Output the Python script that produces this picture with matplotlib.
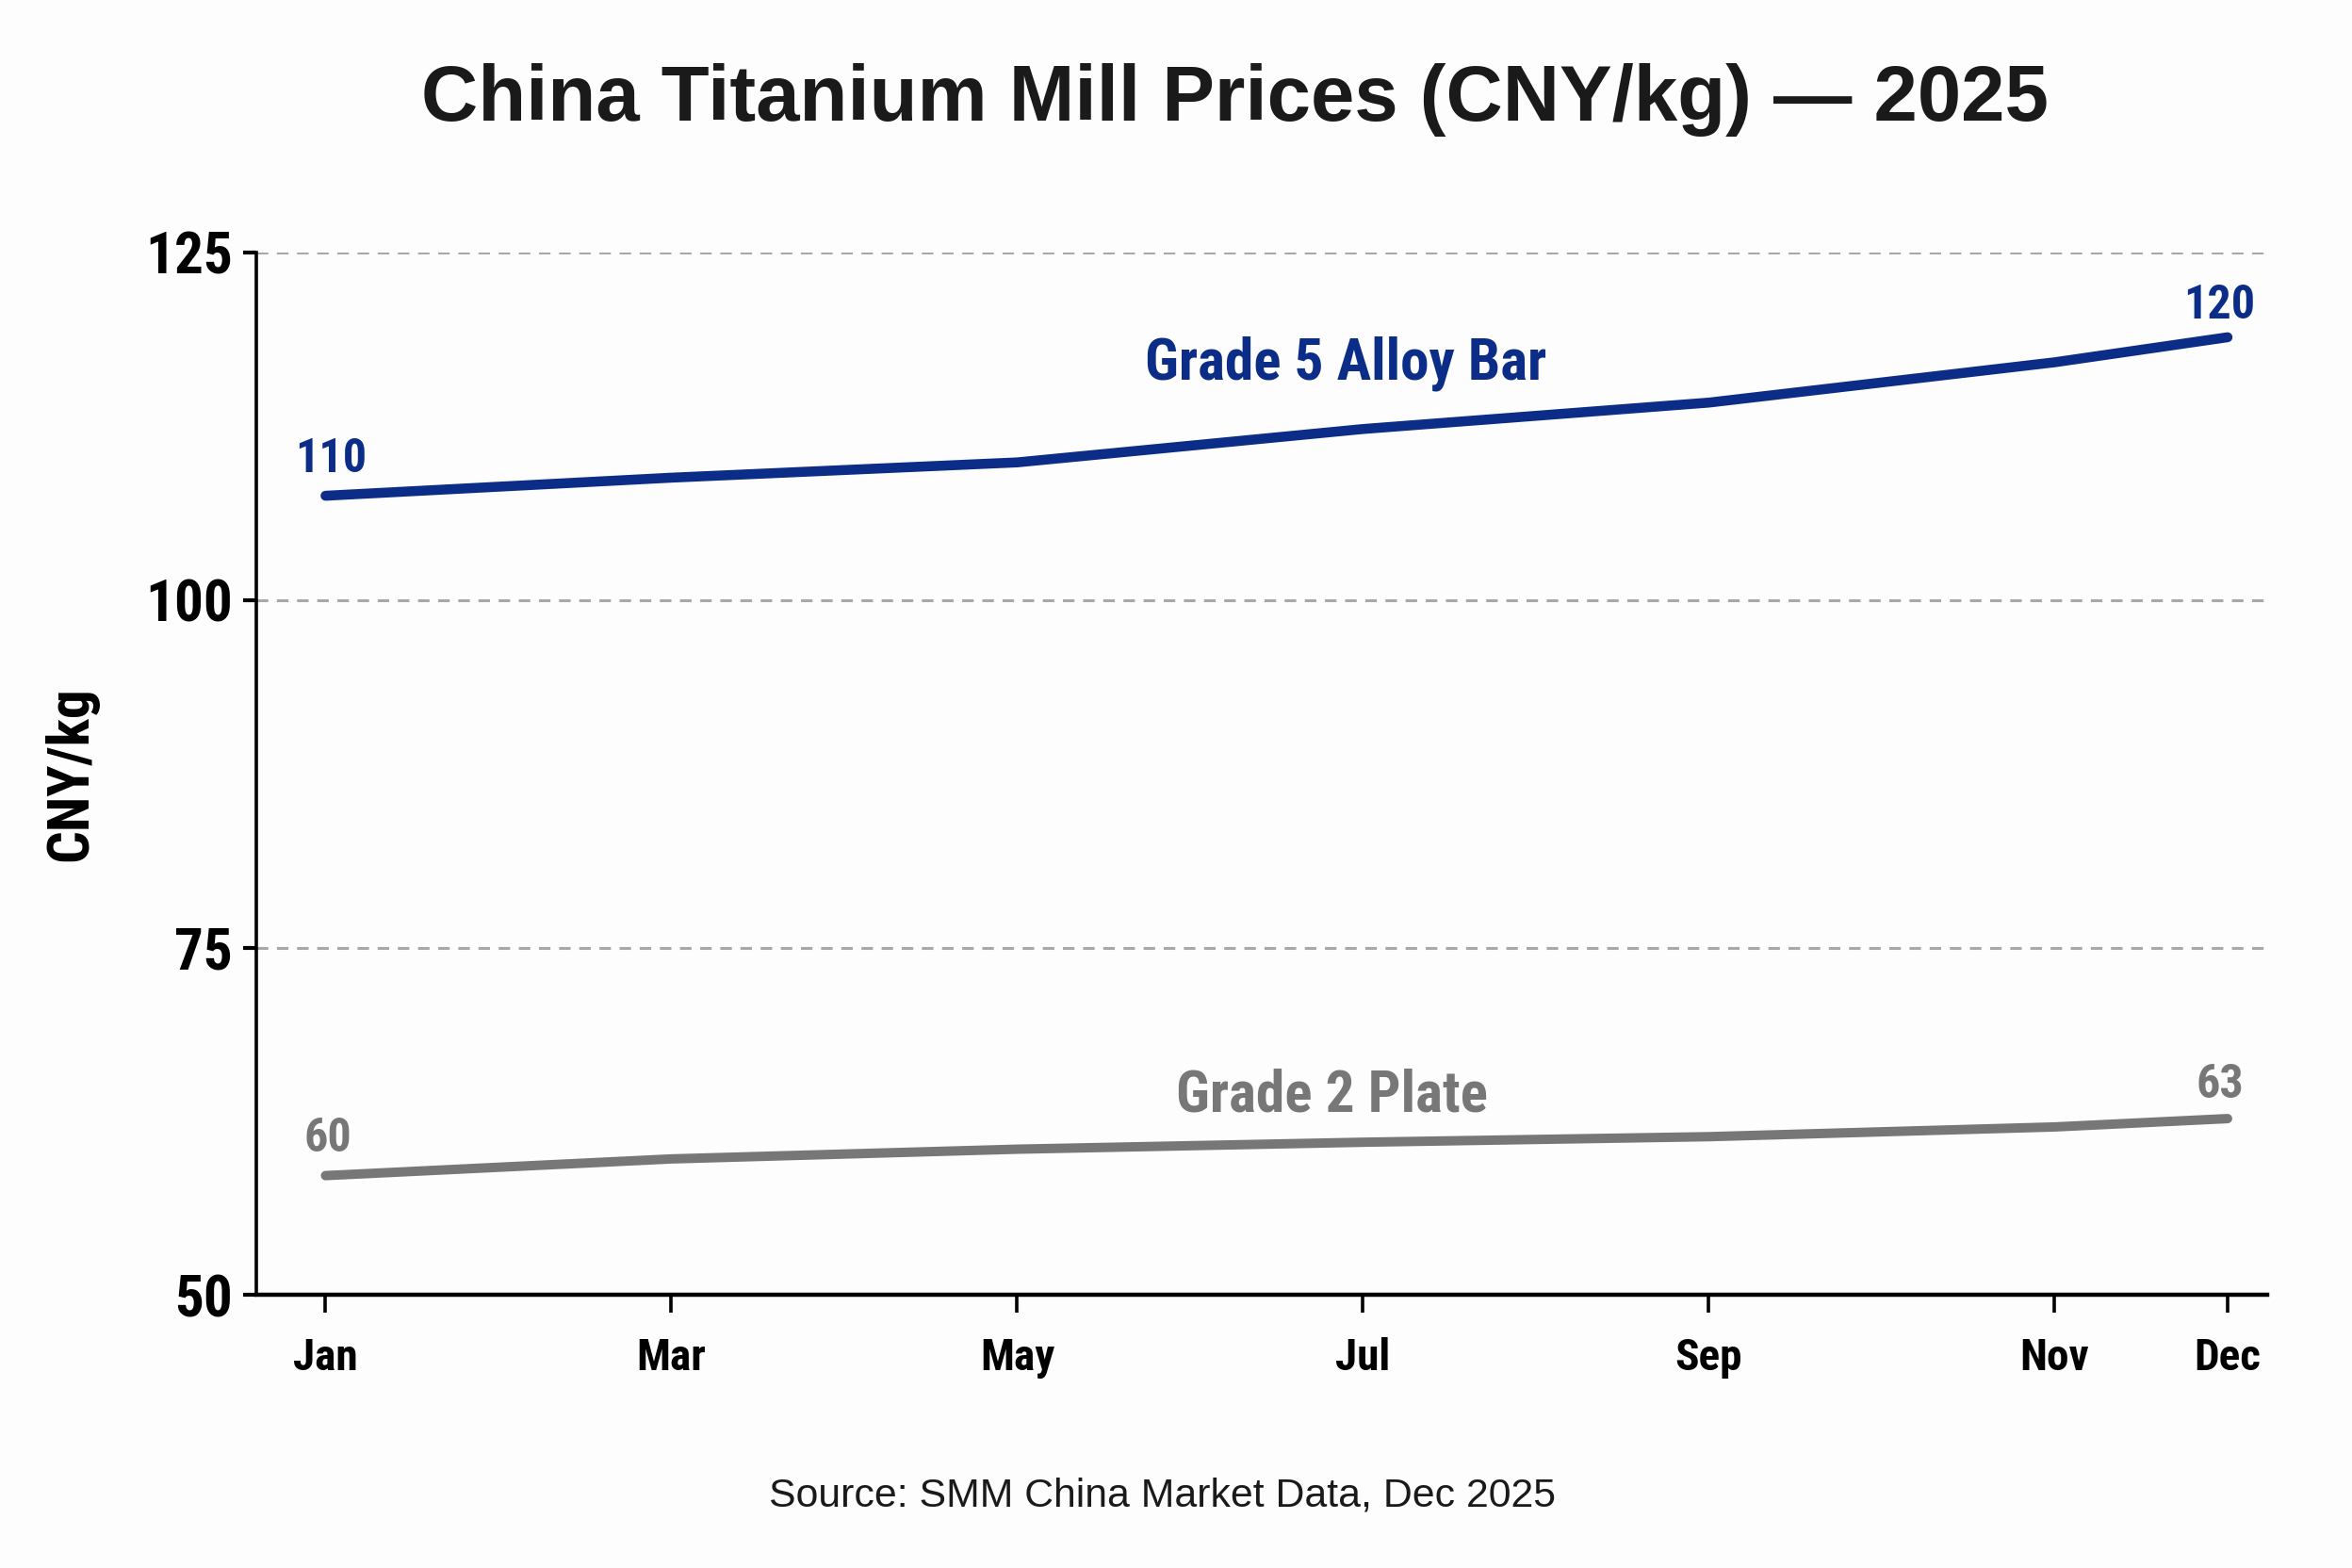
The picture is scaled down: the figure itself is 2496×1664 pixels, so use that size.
import matplotlib
matplotlib.use("Agg")
import matplotlib.pyplot as plt

# Data
months = [1, 3, 5, 7, 9, 11, 12]
month_labels = ["Jan", "Mar", "May", "Jul", "Sep", "Nov", "Dec"]
grade5_bar = [107.5, 108.8, 109.9, 112.3, 114.2, 117.1, 118.9]
grade2_plate = [58.6, 59.8, 60.5, 61.0, 61.4, 62.1, 62.7]
grade5_end_labels = ["110", "120"]
grade2_end_labels = ["60", "63"]
y_ticks = [50, 75, 100, 125]

BLUE = "#0b2d87"
GRAY = "#777777"
NARROW = ["Roboto Condensed", "Liberation Sans Narrow", "Liberation Sans", "DejaVu Sans"]

plt.rcParams["font.family"] = ["Liberation Sans", "DejaVu Sans"]

fig = plt.figure(figsize=(12.48, 8.32), dpi=200)
fig.patch.set_facecolor("#fdfdfd")
ax = fig.add_axes([0.109, 0.174, 0.855, 0.665])
ax.set_facecolor("#fdfdfd")

ax.plot(months, grade5_bar, color=BLUE, lw=3.8, solid_capstyle="round", zorder=3)
ax.plot(months, grade2_plate, color=GRAY, lw=3.6, solid_capstyle="round", zorder=3)

ax.set_xlim(0.6, 12.23)
ax.set_ylim(50, 125)
ax.set_xticks(months)
ax.set_xticklabels(month_labels, family=NARROW, fontweight="bold", fontsize=17)
ax.set_yticks(y_ticks)
ax.set_yticklabels([str(v) for v in y_ticks], family=NARROW, fontweight="bold", fontsize=22)
ax.tick_params(axis="x", length=7, width=1.3, pad=9, colors="black")
ax.tick_params(axis="y", length=5, width=1.5, pad=4, colors="black")

# dashed gridlines only above the bottom spine
for v in y_ticks[1:]:
    ax.axhline(v, color="#a8a8a8", lw=1.1, ls=(0, (4, 3)), zorder=1)

for s in ["top", "right"]:
    ax.spines[s].set_visible(False)
ax.spines["left"].set_linewidth(1.3)
ax.spines["bottom"].set_linewidth(1.6)

ax.set_ylabel("CNY/kg", family=NARROW, fontweight="bold", fontsize=22, labelpad=18)

# end labels
ax.annotate(grade5_end_labels[0], (months[0], grade5_bar[0]), xytext=(2, 5.5),
            textcoords="offset points", ha="center", va="bottom",
            color=BLUE, family=NARROW, fontweight="bold", fontsize=18)
ax.annotate(grade5_end_labels[1], (months[-1], grade5_bar[-1]), xytext=(-3, 3.5),
            textcoords="offset points", ha="center", va="bottom",
            color=BLUE, family=NARROW, fontweight="bold", fontsize=18)
ax.annotate(grade2_end_labels[0], (months[0], grade2_plate[0]), xytext=(1, 5.5),
            textcoords="offset points", ha="center", va="bottom",
            color=GRAY, family=NARROW, fontweight="bold", fontsize=18)
ax.annotate(grade2_end_labels[1], (months[-1], grade2_plate[-1]), xytext=(-3, 4.5),
            textcoords="offset points", ha="center", va="bottom",
            color=GRAY, family=NARROW, fontweight="bold", fontsize=18)

# series names
ax.text(6.9, 117.0, "Grade 5 Alloy Bar", ha="center", va="center",
        color=BLUE, family=NARROW, fontweight="bold", fontsize=22)
ax.text(6.82, 64.4, "Grade 2 Plate", ha="center", va="center",
        color=GRAY, family=NARROW, fontweight="bold", fontsize=22)

fig.text(0.525, 0.936, "China Titanium Mill Prices (CNY/kg) \u2014 2025",
         ha="center", va="center", fontsize=30, fontweight="bold", color="#1a1a1a")
fig.text(0.494, 0.046, "Source: SMM China Market Data, Dec 2025",
         ha="center", va="center", fontsize=15.4, color="#1a1a1a")

fig.savefig("out.png", dpi=200, facecolor=fig.get_facecolor())
